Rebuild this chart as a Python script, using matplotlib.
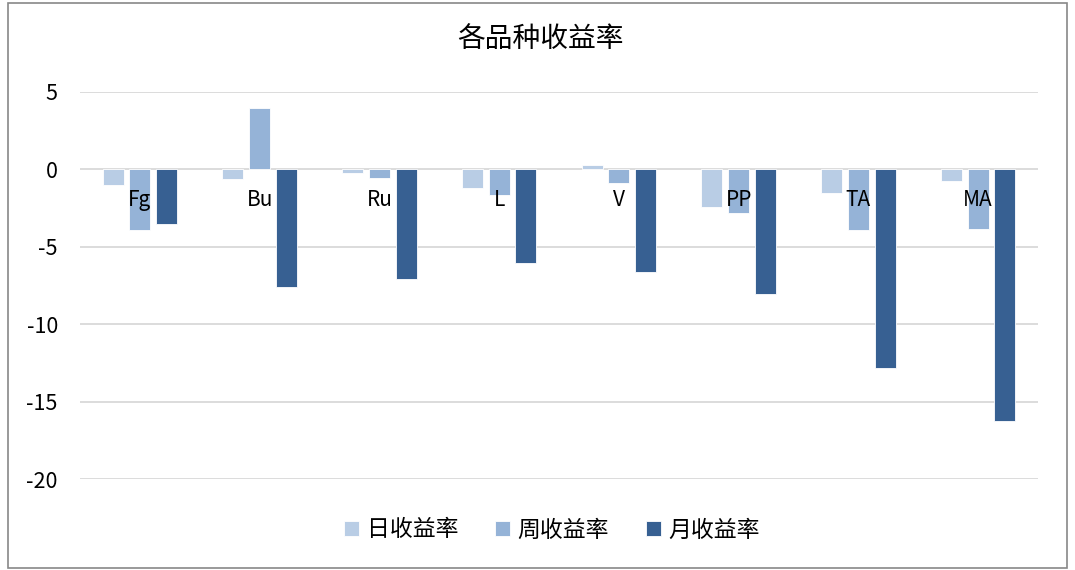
import numpy as np
import matplotlib
matplotlib.use('Agg')
from matplotlib import pyplot as plt
from matplotlib.patches import Rectangle

plt.rcParams['font.family'] = ['Noto Sans CJK SC', 'DejaVu Sans']
plt.rcParams['axes.unicode_minus'] = False

categories = ['Fg', 'Bu', 'Ru', 'L', 'V', 'PP', 'TA', 'MA']
daily = [-1.04, -0.65, -0.24, -1.23, 0.26, -2.40, -1.54, -0.78]
weekly = [-3.94, 3.94, -0.58, -1.67, -0.87, -2.79, -3.94, -3.83]
monthly = [-3.53, -7.62, -7.10, -6.02, -6.64, -8.05, -12.80, -16.25]
series_names = ['日收益率', '周收益率', '月收益率']
colors = ['#B9CDE5', '#95B3D7', '#376092']

fig = plt.figure(figsize=(10.75, 5.7), dpi=100)
ax = fig.add_axes([80/1075, 1-479/570, 958/1075, 387/570])

x = np.arange(len(categories))
step = 0.223
w = 0.175
for i, (vals, name, c) in enumerate(zip([daily, weekly, monthly], series_names, colors)):
    ax.bar(x + (i-1)*step, vals, width=w, color=c, edgecolor='white', linewidth=0.6,
           label=name, zorder=3)

ax.set_xlim(-0.5, len(categories)-0.5)
ax.set_ylim(-20, 5)
ax.set_yticks([5, 0, -5, -10, -15, -20])
ax.yaxis.grid(True, color='#D9D9D9', linewidth=1.3, zorder=0)
ax.set_axisbelow(True)
for s in ax.spines.values():
    s.set_visible(False)
ax.tick_params(axis='y', length=0, labelsize=15.5, pad=16, colors='black')
ax.set_xticks([])

# category labels sit next to the zero line, on top of the bars
for xi, lab in zip(x, categories):
    ax.text(xi, -1.95, lab, ha='center', va='center', fontsize=15, zorder=5)

fig.text(540/1075, 1-40/570, '各品种收益率', ha='center', va='center', fontsize=20)
fig.legend(loc='center', bbox_to_anchor=(552/1075, 1-530/570), ncol=3, frameon=False,
           fontsize=16.5, handlelength=0.65, handleheight=0.65, handletextpad=0.35,
           columnspacing=1.6)

fig.patches.append(Rectangle((8/1075, 2/570), 1059/1075, 565/570, transform=fig.transFigure,
                             fill=False, edgecolor='#888888', linewidth=1.2))

fig.savefig('out.png', dpi=100)
